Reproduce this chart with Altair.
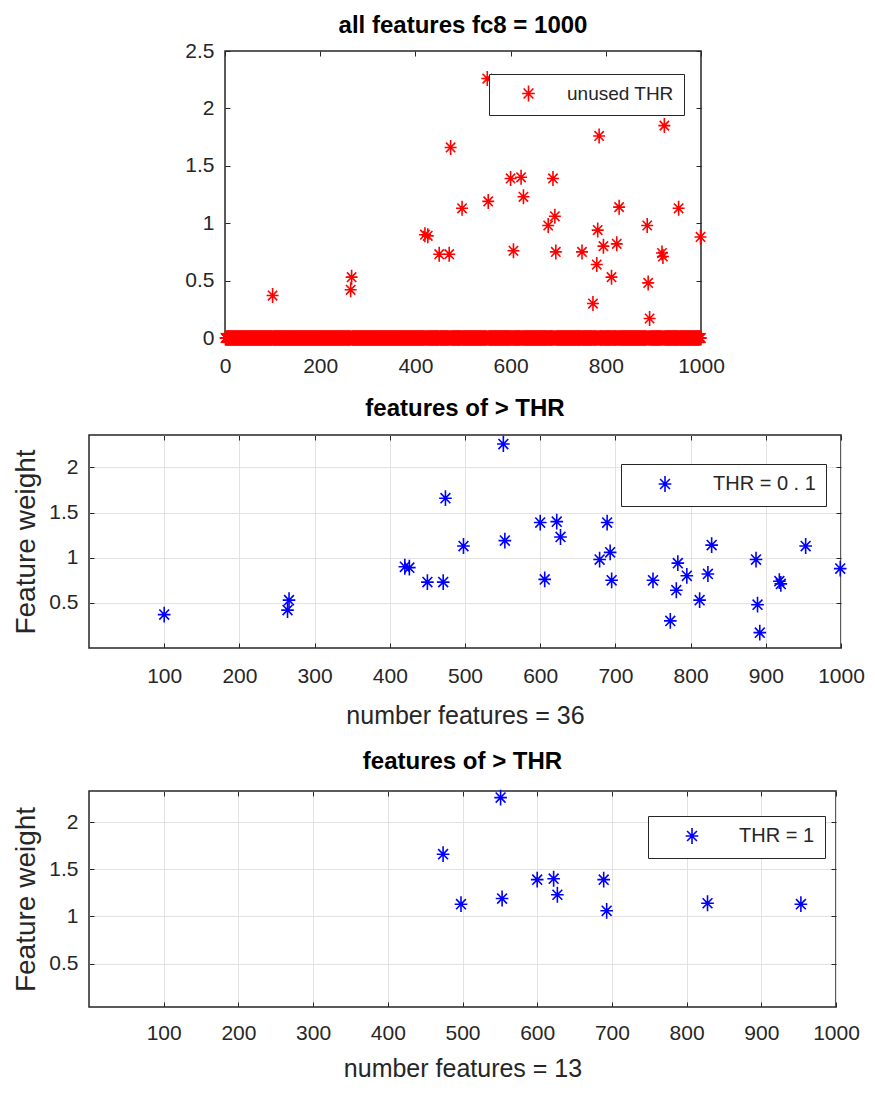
import altair as alt
import pandas as pd

# ---- data ----
feature_idx = [100, 264, 266, 420, 426, 450, 471, 474, 498, 551, 553, 600,
               606, 622, 627, 679, 689, 693, 695, 750, 773, 781, 783, 786,
               795, 812, 823, 828, 887, 889, 892, 918, 920, 923, 953, 999]
feature_w = [0.37, 0.42, 0.53, 0.90, 0.89, 0.73, 0.73, 1.66, 1.13, 2.26, 1.19, 1.39,
             0.76, 1.40, 1.23, 0.98, 1.39, 1.06, 0.75, 0.75, 0.30, 0.64, 0.94, 1.76,
             0.80, 0.53, 0.82, 1.14, 0.98, 0.48, 0.17, 0.74, 0.71, 1.85, 1.13, 0.88]
n_features = 1000
thresholds = [0.1, 1]
legend_labels = ["unused THR", "THR = 0 . 1", "THR = 1"]
titles = ["all features fc8 = 1000", "features of > THR", "features of > THR"]
x_titles = ["number features = 36", "number features = 13"]
top_x_ticks = [0, 200, 400, 600, 800, 1000]
top_y_ticks = [0, 0.5, 1, 1.5, 2, 2.5]
sub_x_ticks = [100, 200, 300, 400, 500, 600, 700, 800, 900, 1000]
sub_y_ticks = [0.5, 1, 1.5, 2]

# full weight vector (all other features are zero)
w_all = [0.0] * n_features
for i, w in zip(feature_idx, feature_w):
    w_all[i - 1] = w
df_all = pd.DataFrame({"idx": list(range(1, n_features + 1)), "w": w_all,
                       "series": legend_labels[0]})
df_nz = pd.DataFrame({"idx": feature_idx, "w": feature_w})

AST = "M0,-1L0,1M-0.8,0L0.8,0M-0.62,-0.64L0.62,0.64M-0.62,0.64L0.62,-0.64"
REG = "Liberation Sans, Arial, sans-serif"
TXT = "#262626"
RED = "#ff0000"
BLUE = "#0000ff"


def legend(x, y, symoff, laboff, fs=20):
    return alt.Legend(title=None, orient="none", legendX=x, legendY=y, padding=10,
                      strokeColor=TXT, fillColor="white", cornerRadius=0,
                      symbolType=AST, symbolSize=250, symbolStrokeWidth=1.6,
                      symbolOffset=symoff, labelOffset=laboff,
                      labelFont=REG, labelFontSize=fs, labelColor=TXT)


def common_axis(values, grid):
    return dict(values=values, grid=grid, domain=False, ticks=True, tickSize=5,
                offset=-5, tickColor=TXT, labelFont=REG, labelFontSize=21,
                labelColor=TXT, labelExpr="'' + datum.value", labelFlush=False,
                labelOverlap=False, gridColor="#e2e2e2", gridWidth=1)


def mirror_axis(values, orient):
    return alt.Axis(orient=orient, values=values, grid=False, domain=False, labels=False,
                    ticks=True, tickSize=5, offset=-5, tickColor=TXT, title=None)


def xaxis(values, title, grid, lpad=17, tpad=17):
    kw = common_axis(values, grid)
    if title:
        return alt.Axis(title=title, titleFont=REG, titleFontSize=25,
                        titleFontWeight="normal", titleColor=TXT, titlePadding=tpad,
                        labelPadding=lpad, **kw)
    return alt.Axis(title=None, labelPadding=lpad, **kw)


def yaxis(values, title, grid):
    kw = common_axis(values, grid)
    if title:
        return alt.Axis(title=title, titleFont=REG, titleFontSize=28,
                        titleFontWeight="normal", titleColor=TXT, titlePadding=8,
                        labelPadding=11, **kw)
    return alt.Axis(title=None, labelPadding=11, **kw)


def ttl(text, off):
    return alt.TitleParams(text, font=REG, fontSize=24, fontWeight="bold",
                           color="black", offset=off, frame="group")


def mirror(df, xdom, ydom, xt, yt):
    # invisible layer that only carries the top / right tick marks (box on)
    return alt.Chart(df).mark_point(opacity=0).encode(
        x=alt.X("idx:Q", scale=alt.Scale(domain=xdom, nice=False, zero=False),
                axis=mirror_axis(xt, "top")),
        y=alt.Y("w:Q", scale=alt.Scale(domain=ydom, nice=False, zero=False),
                axis=mirror_axis(yt, "right")),
    )


# the top legend is placed relative to the row group (spacer + top panel)
top_pts = alt.Chart(df_all).mark_point(
    shape=AST, filled=False, size=225, strokeWidth=1.6, opacity=1, clip=False
).encode(
    x=alt.X("idx:Q", scale=alt.Scale(domain=[0, 1000], nice=False, zero=False),
            axis=xaxis(top_x_ticks, None, False)),
    y=alt.Y("w:Q", scale=alt.Scale(domain=[0, 2.5], nice=False, zero=False),
            axis=yaxis(top_y_ticks, None, False)),
    color=alt.Color("series:N", scale=alt.Scale(domain=[legend_labels[0]], range=[RED]),
                    legend=legend(400, 23, 20, 29, 19)),
)
top = alt.layer(
    top_pts, mirror(df_nz, [0, 1000], [0, 2.5], top_x_ticks, top_y_ticks)
).resolve_axis(x="independent", y="independent").properties(
    width=476, height=287, title=ttl(titles[0], 2))

spacer = alt.Chart(pd.DataFrame({"a": [0]})).mark_point(opacity=0).encode(
    x=alt.value(0), y=alt.value(0)
).properties(width=95, height=1, view=alt.ViewBackground(strokeOpacity=0))


def sub(thr, label, xt, ydom, w, h, lx, ly, symoff, laboff, t, lpad, tpad):
    pts = alt.Chart(df_nz).transform_filter(
        alt.datum.w > thr
    ).transform_calculate(
        series=f"'{label}'"
    ).mark_point(
        shape=AST, filled=False, size=250, strokeWidth=1.6, opacity=1, clip=False
    ).encode(
        x=alt.X("idx:Q", scale=alt.Scale(domain=[0, 1000], nice=False, zero=False),
                axis=xaxis(sub_x_ticks, xt, True, lpad, tpad)),
        y=alt.Y("w:Q", scale=alt.Scale(domain=ydom, nice=False, zero=False),
                axis=yaxis(sub_y_ticks, "Feature weight", True)),
        color=alt.Color("series:N", scale=alt.Scale(domain=[label], range=[BLUE]),
                        legend=legend(lx, ly, symoff, laboff)),
    )
    return alt.layer(
        pts, mirror(df_nz, [0, 1000], ydom, sub_x_ticks, sub_y_ticks)
    ).resolve_axis(x="independent", y="independent").properties(
        width=w, height=h, title=ttl(t, 12))


mid = sub(thresholds[0], legend_labels[1], x_titles[0], [0, 2.36], 752, 213,
          532, 29, 24, 38, titles[1], 17, 17)
bot = sub(thresholds[1], legend_labels[2], x_titles[1], [0.04, 2.33], 747, 216,
          559, 25, 24, 37, titles[2], 15, 13)

lower = alt.vconcat(mid, bot, spacing=20).resolve_scale(
    color="independent").resolve_legend(color="independent")

chart = alt.vconcat(
    alt.hconcat(spacer, top, spacing=0), lower, spacing=19
).resolve_scale(color="independent").resolve_legend(color="independent").properties(
    padding={"left": 4, "right": 0, "top": 5, "bottom": 0}
).configure_view(
    stroke=TXT, strokeWidth=1.5
)

chart.save("out.html", embed_options={"renderer": "svg", "actions": False})
